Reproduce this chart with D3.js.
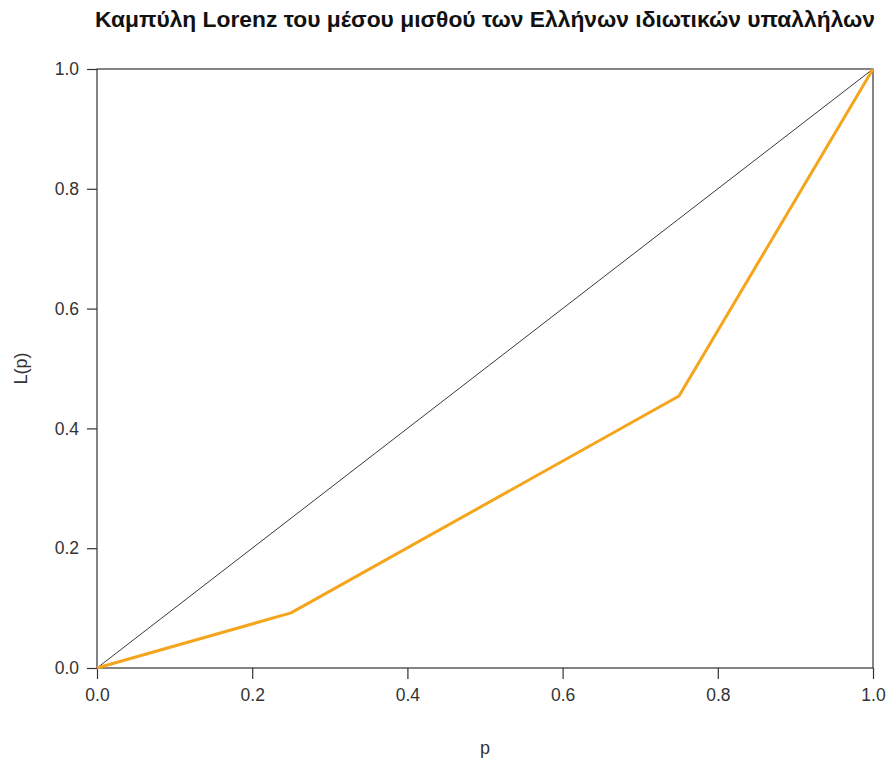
<!DOCTYPE html>
<html>
<head>
<meta charset="utf-8">
<script src="https://cdn.jsdelivr.net/npm/d3@7"></script>
<style>
  html, body { margin: 0; padding: 0; background: #fff; }
  svg { display: block; font-family: "Liberation Sans", Arial, sans-serif; }
</style>
</head>
<body>
<svg id="chart" width="888" height="767"></svg>
<script>
// Cumulative population share and cumulative salary share
const pValues = [0, 0.25, 0.75, 1];
const lValues = [0, 0.092, 0.454, 1];
const equalityLine = [0, 1];
const tickValues = [0, 0.2, 0.4, 0.6, 0.8, 1.0];

const title = "Καμπύλη Lorenz του μέσου μισθού των Ελλήνων ιδιωτικών υπαλλήλων";
const xLabel = "p";
const yLabel = "L(p)";

const svg = d3.select("#chart");
const margin = { left: 97, right: 15, top: 69, bottom: 99 };
const W = 888, H = 767;

const x = d3.scaleLinear().domain([0, 1]).range([margin.left, W - margin.right]);
const y = d3.scaleLinear().domain([0, 1]).range([H - margin.bottom, margin.top]);

// Frame
svg.append("rect")
  .attr("x", x(0)).attr("y", y(1))
  .attr("width", x(1) - x(0)).attr("height", y(0) - y(1))
  .attr("fill", "none").attr("stroke", "#333").attr("stroke-width", 1.2);

// Axes
const xAxis = d3.axisBottom(x).tickValues(tickValues).tickFormat(d3.format(".1f")).tickSize(11).tickPadding(10);
const yAxis = d3.axisLeft(y).tickValues(tickValues).tickFormat(d3.format(".1f")).tickSize(10).tickPadding(8);

const gx = svg.append("g").attr("transform", `translate(0,${y(0)})`).call(xAxis);
const gy = svg.append("g").attr("transform", `translate(${x(0)},0)`).call(yAxis);
[gx, gy].forEach(g => {
  g.select(".domain").remove();
  g.selectAll(".tick line").attr("stroke", "#333").attr("stroke-width", 1.2);
  g.selectAll(".tick text").attr("fill", "#333").style("font-size", "17.5px");
});

// Line of equality
svg.append("line")
  .attr("x1", x(equalityLine[0])).attr("y1", y(equalityLine[0]))
  .attr("x2", x(equalityLine[1])).attr("y2", y(equalityLine[1]))
  .attr("stroke", "#222").attr("stroke-width", 0.9);

// Lorenz curve
const line = d3.line().x((d, i) => x(pValues[i])).y(d => y(d));
svg.append("path")
  .datum(lValues)
  .attr("d", line)
  .attr("fill", "none")
  .attr("stroke", "#F5A51C")
  .attr("stroke-width", 3)
  .attr("stroke-linejoin", "round");

// Title and axis labels
svg.append("text")
  .attr("x", 485).attr("y", 27)
  .attr("text-anchor", "middle")
  .attr("textLength", 780).attr("lengthAdjust", "spacingAndGlyphs")
  .style("font-size", "21.5px").style("font-weight", "bold")
  .attr("fill", "#111")
  .text(title);

svg.append("text")
  .attr("x", (x(0) + x(1)) / 2).attr("y", 754)
  .attr("text-anchor", "middle")
  .style("font-size", "18px").attr("fill", "#333")
  .text(xLabel);

svg.append("text")
  .attr("transform", `translate(27,${(y(0) + y(1)) / 2}) rotate(-90)`)
  .attr("text-anchor", "middle")
  .style("font-size", "18px").attr("fill", "#333")
  .text(yLabel);
</script>
</body>
</html>
